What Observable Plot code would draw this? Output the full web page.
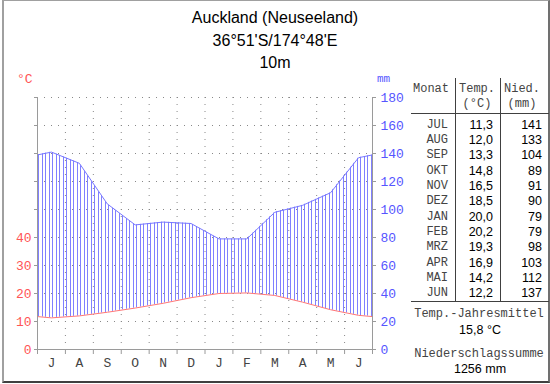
<!DOCTYPE html>
<html><head><meta charset="utf-8">
<script src="https://cdn.jsdelivr.net/npm/d3@7"></script>
<script src="https://cdn.jsdelivr.net/npm/@observablehq/plot@0.6"></script>
<style>
html,body{margin:0;padding:0;background:#fff;}
#wrap{position:relative;width:550px;height:384px;overflow:hidden;background:#fff;}
#frame{position:absolute;left:2px;top:0;width:544px;height:380px;border-left:2px solid #a0a0a0;border-top:1px solid #a0a0a0;border-right:2px solid #707070;border-bottom:2px solid #404040;box-sizing:content-box;}
#chart{position:absolute;left:0;top:0;}
.t{position:absolute;white-space:nowrap;line-height:16px;height:16px;}
.title{font-family:"Liberation Sans",Arial,sans-serif;font-size:16px;color:#000;}
.mono{font-family:"Liberation Mono","Courier New",monospace;font-size:12px;color:#444;}
.num{font-family:"Liberation Sans",Arial,sans-serif;font-size:12.5px;color:#000;}
.hl{position:absolute;height:1px;background:#404040;}
.vl{position:absolute;width:1px;background:#404040;}
</style>
</head><body>
<div id="wrap"><div id="frame"></div></div>
<script>
// ---- data ----
const months = ["JUL","AUG","SEP","OKT","NOV","DEZ","JAN","FEB","MRZ","APR","MAI","JUN"];
const monthLetters = ["J","A","S","O","N","D","J","F","M","A","M","J"];
const temps = [11.3,12.0,13.3,14.8,16.5,18.5,20.0,20.2,19.3,16.9,14.2,12.2];
const precip = [141,133,104,89,91,90,79,79,98,103,112,137];
const mmTicks = [0,20,40,60,80,100,120,140,160,180];
const tempTickLabels = [0,10,20,30,40];
const titleLines = ["Auckland (Neuseeland)","36°51'S/174°48'E","10m"];

const rows = months.map((m,i)=>({x:i+0.5, t:temps[i], p:precip[i]}));
// wrap-around neighbours (Jun before Jul, Jul after Jun) so the curves reach the frame edges
const ext = [{x:-0.5, t:temps[11], p:precip[11]}, ...rows, {x:12.5, t:temps[0], p:precip[0]}];

const red = "#ff5555", blue = "#5555ff", axisGray = "#9a9a9a";

const plot = Plot.plot({
  width:550, height:384,
  marginLeft:37, marginRight:178, marginTop:97, marginBottom:35,
  x:{domain:[0,12]},
  y:{domain:[0,180]},
  style:{fontFamily:"'Liberation Mono', monospace", fontSize:"13px", background:"transparent", overflow:"visible"},
  marks:[
    Plot.ruleY(mmTicks.filter(d=>d>0), {stroke:"#888", strokeDasharray:"1,6"}),
    Plot.ruleX(d3.range(1,12), {stroke:"#888", strokeDasharray:"1,6"}),
    Plot.areaY(ext, {x:"x", y1:d=>d.t*2, y2:"p", fill:"url(#hatch)", clip:"frame"}),
    Plot.line(ext, {x:"x", y:"p", stroke:"#7777ff", strokeWidth:1, clip:"frame"}),
    Plot.line(ext, {x:"x", y:d=>d.t*2, stroke:"#ff7777", strokeWidth:1, clip:"frame"}),
    Plot.ruleX([0,12], {stroke:axisGray}),
    Plot.ruleY([0], {stroke:axisGray}),
    Plot.axisY({anchor:"left", ticks:mmTicks, tickSize:3, tickPadding:3,
      tickFormat:d => tempTickLabels.includes(d/2) ? String(d/2) : "",
      stroke:axisGray, fill:red, label:null}),
    Plot.axisY({anchor:"right", ticks:mmTicks, tickSize:3, tickPadding:5,
      tickFormat:d => String(d), stroke:axisGray, fill:blue, label:null}),
    Plot.axisX({ticks:d3.range(0,13), tickSize:5, tickFormat:()=>"", stroke:axisGray, label:null}),
    Plot.axisX({ticks:rows.map(r=>r.x), tickSize:0, tickPadding:8,
      tickFormat:d => monthLetters[Math.floor(d)], fill:"#444", label:null})
  ]
});
plot.id = "chart";
d3.select(plot).insert("defs", ":first-child").html(
  '<pattern id="hatch" patternUnits="userSpaceOnUse" x="0" y="0" width="7" height="8">' +
  '<line x1="0.5" y1="0" x2="0.5" y2="8" stroke="#8080ff" stroke-width="1"/>' +
  '<line x1="3.5" y1="0" x2="3.5" y2="8" stroke="#8080ff" stroke-width="1"/></pattern>');
const wrap = document.getElementById("wrap");
wrap.appendChild(plot);

function place(text, x, y, align, cls, color){
  const d = document.createElement("div");
  d.className = "t " + cls;
  d.textContent = text;
  d.style.top = (y - 8) + "px";
  if (align === "left") d.style.left = x + "px";
  else if (align === "right") d.style.right = (550 - x) + "px";
  else { d.style.left = (x - 120) + "px"; d.style.width = "240px"; d.style.textAlign = "center"; }
  if (color) d.style.color = color;
  wrap.appendChild(d);
  return d;
}
function hline(x1, x2, y){ const d=document.createElement("div"); d.className="hl"; d.style.left=x1+"px"; d.style.width=(x2-x1)+"px"; d.style.top=y+"px"; wrap.appendChild(d); }
function vline(x, y1, y2){ const d=document.createElement("div"); d.className="vl"; d.style.left=x+"px"; d.style.top=y1+"px"; d.style.height=(y2-y1)+"px"; wrap.appendChild(d); }

// titles
titleLines.forEach((s,i)=>place(s, 275, 18 + i*22.5, "center", "title"));
// axis unit labels
const cu = place("°C", 17, 80, "left", "mono", red); cu.style.fontSize="13px";
const mu = place("mm", 377, 79, "left", "mono", blue); mu.style.fontSize="11px";

// table
vline(455, 78, 301); vline(500, 78, 301);
hline(411, 549, 113); hline(411, 549, 301);
place("Monat", 413, 89, "left", "mono");
place("Temp.", 477, 89, "center", "mono");
place("(°C)", 477, 104, "center", "mono");
place("Nied.", 522, 89, "center", "mono");
place("(mm)", 522, 104, "center", "mono");
const fmt = v => v.toFixed(1).replace(".", ",");
months.forEach((m,i)=>{
  const y = 124.5 + i*15.35;
  place(m, 448, y, "right", "mono");
  place(fmt(temps[i]), 493, y, "right", "num");
  place(String(precip[i]), 542, y, "right", "num");
});
const meanT = d3.mean(temps), sumP = d3.sum(precip);
place("Temp.-Jahresmittel", 479, 314, "center", "mono");
place(fmt(meanT) + " °C", 480, 330, "center", "num");
place("Niederschlagssumme", 479, 354, "center", "mono");
place(sumP + " mm", 480, 369, "center", "num");
</script>
</body></html>
